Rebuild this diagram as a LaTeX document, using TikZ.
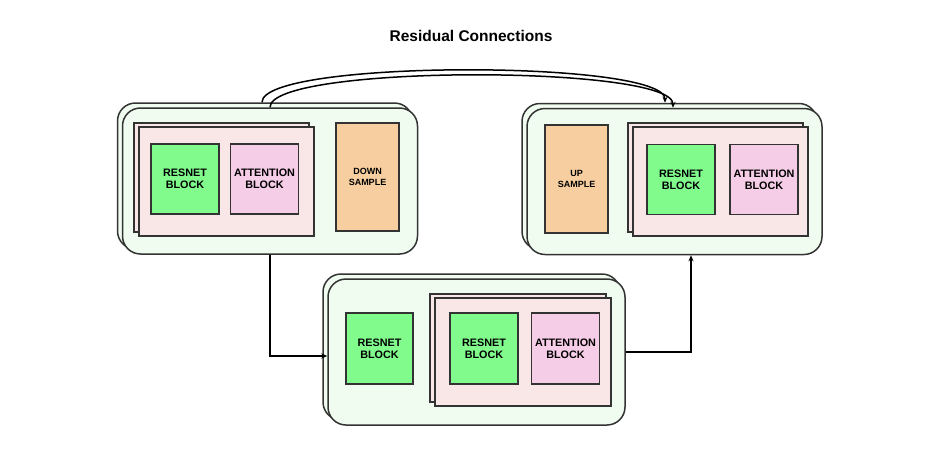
\documentclass[tikz,border=0pt]{standalone}
\usepackage{fontspec}
\setmainfont{Liberation Sans}
\usepackage{tikz}
\usetikzlibrary{arrows.meta, positioning, calc, shadows}

\definecolor{stagefill}{HTML}{F0FCF0}
\definecolor{stackfill}{HTML}{F9E6E6}
\definecolor{resfill}{HTML}{80FB8C}
\definecolor{attnfill}{HTML}{F6CDE6}
\definecolor{samplefill}{HTML}{F6CE9F}
\definecolor{edgegray}{HTML}{333333}

\tikzset{
  stage/.style={draw=edgegray, line width=1.5pt, fill=stagefill,
    rounded corners=18pt, minimum width=295pt, minimum height=146pt,
    copy shadow={shadow xshift=-5pt, shadow yshift=5pt}},
  stack/.style={draw=edgegray, line width=1.3pt, fill=stackfill,
    minimum width=175pt, minimum height=109pt,
    copy shadow={shadow xshift=-5pt, shadow yshift=4pt}},
  block/.style={draw=edgegray, line width=1.4pt, minimum width=68pt,
    minimum height=70pt, align=center, font=\fontsize{10.8}{12}\selectfont\bfseries},
  resblock/.style={block, fill=resfill},
  attnblock/.style={block, fill=attnfill},
  sampleblock/.style={block, fill=samplefill, minimum width=63pt,
    minimum height=108pt, font=\fontsize{9}{10.5}\selectfont\bfseries},
  link/.style={line width=1.5pt, -{Stealth[length=6pt,width=5pt]}}
}

\begin{document}
\begin{tikzpicture}[x=1pt, y=-1pt]
  \useasboundingbox (0,0) rectangle (946,448);

  % title
  \node[font=\fontsize{15.5}{18}\selectfont\bfseries] (title) at (471,36) {Residual Connections};

  % === down stage (left) ===
  \node[stage] (lout) at (270,181) {};
  \node[stack] (lstack) at (226.5,181.5) {};
  \node[resblock] (lres) at (185,179) {RESNET\\BLOCK};
  \node[attnblock] (lattn) at (264.5,179) {ATTENTION\\BLOCK};
  \node[sampleblock] (down) at (367.5,177) {DOWN\\SAMPLE};

  % === up stage (right) ===
  \node[stage] (rout) at (674.5,181.5) {};
  \node[sampleblock] (up) at (576.5,179) {UP\\SAMPLE};
  \node[stack] (rstack) at (720.5,181.5) {};
  \node[resblock] (rres) at (681,179.5) {RESNET\\BLOCK};
  \node[attnblock] (rattn) at (764,179.5) {ATTENTION\\BLOCK};

  % === middle stage (bottom) ===
  \node[stage, minimum width=297pt] (mout) at (476.5,352) {};
  \node[resblock, minimum width=67pt, minimum height=71pt] (mres) at (379.5,348.5) {RESNET\\BLOCK};
  \node[stack, minimum width=176pt, minimum height=108pt] (mstack) at (523,352) {};
  \node[resblock, minimum height=71pt] (mres2) at (484,348.5) {RESNET\\BLOCK};
  \node[attnblock, minimum width=67pt, minimum height=71pt] (mattn) at (565.5,348.5) {ATTENTION\\BLOCK};

  % main path
  \draw[link] (lout.south) |- ([yshift=-4pt]mout.west);
  \draw[link] (mout.east) -| ([xshift=16.5pt]rout.south);

  % residual connections
  \coordinate (skipA) at ([shift={(-8,-5)}]lout.north);
  \coordinate (skipB) at ([shift={(-9.5,-5)}]rout.north);
  \draw[link] (skipA) .. controls ($(skipA)+(0,-43)$) and ($(skipB)+(0,-43)$) .. (skipB);
  \draw[link] (lout.north) .. controls ($(lout.north)+(0,-43)$) and ($(rout.north)+(-1.5,-43)$) .. ([xshift=-1.5pt]rout.north);
\end{tikzpicture}
\end{document}
